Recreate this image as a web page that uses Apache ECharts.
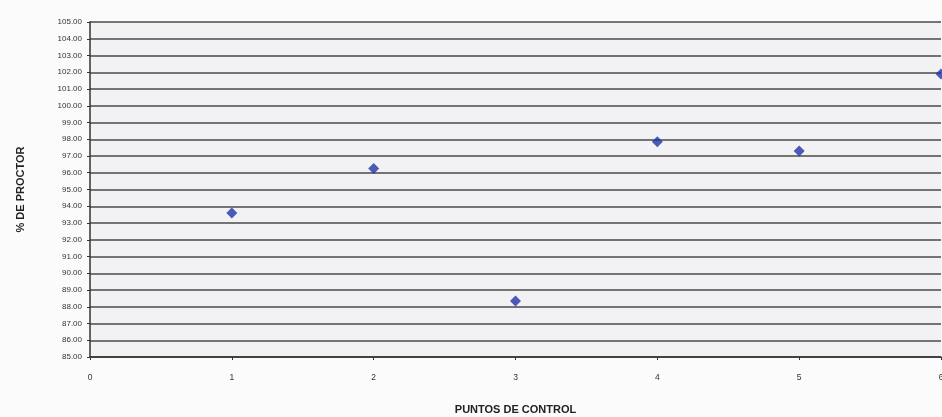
<!DOCTYPE html>
<html>
<head>
<meta charset="utf-8">
<script src="https://cdn.jsdelivr.net/npm/echarts@6/dist/echarts.min.js"></script>
<style>
html,body{margin:0;padding:0;background:#fbfbfb;}
#chart{width:942px;height:417px;}
</style>
</head>
<body>
<div id="chart"></div>
<script>
const puntos = [1, 2, 3, 4, 5, 6];
const proctor = [93.6, 96.25, 88.35, 97.85, 97.3, 101.9];
const yMin = 85, yMax = 105, yStep = 1;
const xMin = 0, xMax = 6, xStep = 1;
const xName = 'PUNTOS DE CONTROL';
const yName = '% DE PROCTOR';

const chart = echarts.init(document.getElementById('chart'));
chart.setOption({
  animation: false,
  backgroundColor: '#fbfbfb',
  grid: {left: 90, top: 22, width: 851, height: 335, show: true, backgroundColor: '#f2f2f4', borderWidth: 0,
    containLabel: false, outerBoundsMode: 'none'},
  xAxis: {
    type: 'value', min: xMin, max: xMax, interval: xStep,
    name: xName, nameLocation: 'middle', nameGap: 47,
    nameTextStyle: {fontFamily: 'Liberation Sans', fontWeight: 'bold', fontSize: 11, color: '#222'},
    axisLine: {show: true, lineStyle: {color: '#333', width: 1.5}},
    axisTick: {show: true, length: 3, lineStyle: {color: '#333'}},
    axisLabel: {fontFamily: 'Liberation Sans', fontSize: 8.5, color: '#333', margin: 16, showMaxLabel: true},
    splitLine: {show: false}
  },
  yAxis: {
    type: 'value', min: yMin, max: yMax, interval: yStep,
    name: yName, nameLocation: 'middle', nameGap: 64, nameRotate: 90,
    nameTextStyle: {fontFamily: 'Liberation Sans', fontWeight: 'bold', fontSize: 11, color: '#222'},
    axisLine: {show: true, lineStyle: {color: '#333', width: 1.5}},
    axisTick: {show: true, length: 3, lineStyle: {color: '#333'}},
    axisLabel: {fontFamily: 'Liberation Sans', fontSize: 8, color: '#333', margin: 8,
      formatter: v => v.toFixed(2)},
    splitLine: {show: true, lineStyle: {color: '#4a4a4a', width: 1.5}}
  },
  series: [{
    type: 'scatter',
    symbol: 'diamond',
    symbolSize: 11,
    itemStyle: {color: '#2233a8'},
    data: puntos.map((p, i) => [p, proctor[i]])
  }]
});
</script>
</body>
</html>
